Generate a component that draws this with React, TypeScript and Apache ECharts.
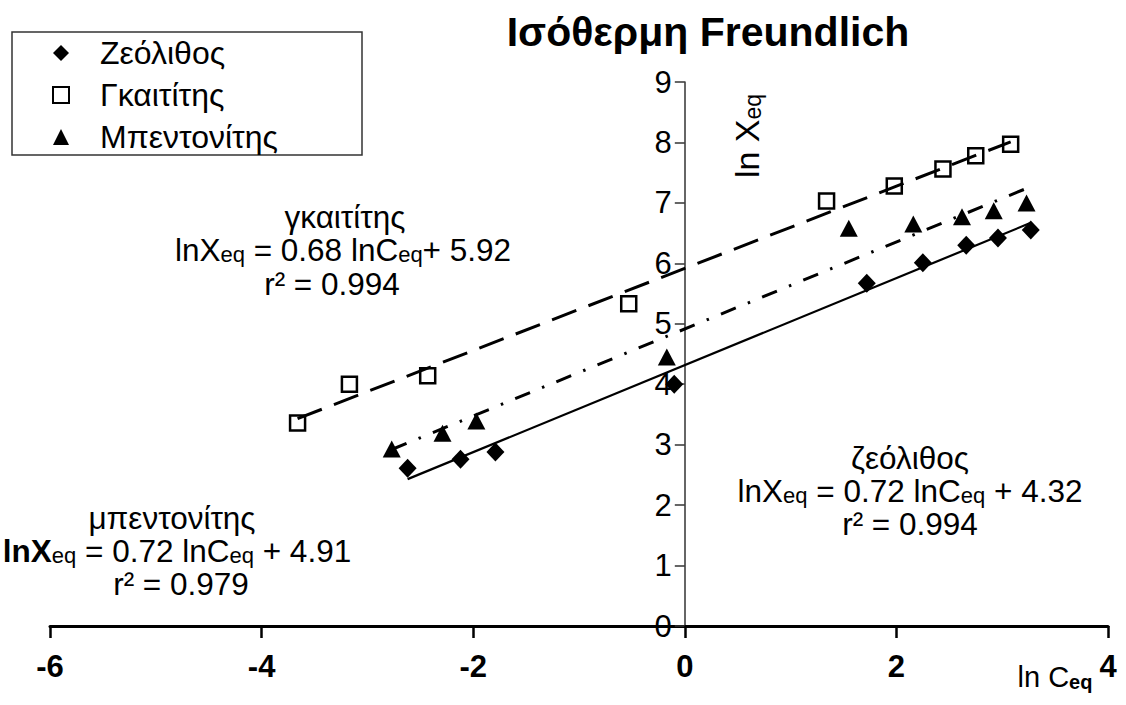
import React, { useEffect, useRef } from "react";
import * as echarts from "echarts";

const FONT = '"Liberation Sans", Arial, Helvetica, sans-serif';

// Measured points (ln Ceq, ln Xeq)
const zeoliteX = [-2.62, -2.12, -1.79, -0.1, 1.72, 2.25, 2.66, 2.96, 3.27];
const zeoliteY = [2.61, 2.76, 2.88, 4.0, 5.67, 6.01, 6.3, 6.42, 6.55];
const gaititeX = [-3.66, -3.17, -2.43, -0.53, 1.34, 1.98, 2.44, 2.75, 3.08];
const gaititeY = [3.36, 4.0, 4.14, 5.33, 7.03, 7.28, 7.56, 7.78, 7.97];
const bentoniteX = [-2.77, -2.29, -1.97, -0.17, 1.55, 2.16, 2.62, 2.92, 3.23];
const bentoniteY = [2.93, 3.19, 3.39, 4.45, 6.58, 6.65, 6.77, 6.87, 7.0];

// Trend line end points
const zeoliteTrend = [[-2.62, 2.43], [3.27, 6.67]];
const gaititeTrend = [[-3.66, 3.43], [3.08, 8.01]];
const bentoniteTrend = [[-2.77, 2.92], [3.23, 7.24]];

const seriesNames = ["Ζεόλιθος", "Γκαιτίτης", "Μπεντονίτης"];
const xTicks = { min: -6, max: 4, interval: 2 };
const yTicks = { min: 0, max: 9, interval: 1 };

const GRID = { left: 50, right: 18, top: 82, bottom: 79 };
const W = 1126;

const zip = (xs: number[], ys: number[]) => xs.map((x, i) => [x, ys[i]]);

const rich = {
  n: { fontSize: 31.5, fontFamily: FONT, lineHeight: 30, color: "#000" },
  b: { fontSize: 31.5, fontFamily: FONT, fontWeight: "bold", lineHeight: 30, color: "#000" },
  s: { fontSize: 22, fontFamily: FONT, verticalAlign: "bottom", color: "#000" },
  n2: { fontSize: 29, fontFamily: FONT, lineHeight: 30, color: "#000" },
  s2: { fontSize: 20, fontFamily: FONT, fontWeight: "bold", verticalAlign: "bottom", color: "#000" },
  n3: { fontSize: 34, fontFamily: FONT, lineHeight: 34, color: "#000" },
  s3: { fontSize: 23, fontFamily: FONT, verticalAlign: "bottom", color: "#000" },
};

const txt = (x: number, y: number, text: string, extra: any = {}) => ({
  type: "text",
  x,
  y,
  silent: true,
  ...extra,
  style: {
    text,
    rich,
    fontSize: 31.5,
    fontFamily: FONT,
    fill: "#000",
    textAlign: "center",
    textVerticalAlign: "middle",
    align: "center",
    verticalAlign: "middle",
  },
});

export default function App() {
  const ref = useRef<HTMLDivElement>(null);
  useEffect(() => {
    if (!ref.current) return;
    const chart = echarts.init(ref.current, undefined, { renderer: "svg" });
    const plotW = W - GRID.left - GRID.right;
    const zeroX = GRID.left + ((0 - xTicks.min) / (xTicks.max - xTicks.min)) * plotW;
    const option: any = {
      animation: false,
      backgroundColor: "#fff",
      title: {
        text: "Ισόθερμη Freundlich",
        left: 703,
        top: 6,
        textAlign: "center",
        textStyle: { fontSize: 41, fontWeight: "bold", fontFamily: FONT, color: "#000" },
      },
      legend: {
        data: seriesNames,
        orient: "vertical",
        left: 52,
        top: 37,
        padding: 0,
        itemWidth: 16,
        itemHeight: 16,
        itemGap: 10,
        selectedMode: false,
        textStyle: { fontSize: 32, fontFamily: FONT, color: "#000", lineHeight: 32, padding: [0, 0, 0, 26] },
      },
      grid: { ...GRID, containLabel: false },
      xAxis: {
        type: "value",
        min: xTicks.min,
        max: xTicks.max,
        interval: xTicks.interval,
        splitLine: { show: false },
        axisLine: { show: true, onZero: false, lineStyle: { color: "#000", width: 3 } },
        axisTick: { show: true, length: 12, lineStyle: { color: "#000", width: 2.5 } },
        axisLabel: { fontSize: 31, fontWeight: "bold", fontFamily: FONT, color: "#000", margin: 25, showMaxLabel: true, showMinLabel: true },
      },
      yAxis: {
        type: "value",
        min: yTicks.min,
        max: yTicks.max,
        interval: yTicks.interval,
        offset: -(zeroX - GRID.left),
        splitLine: { show: false },
        axisLine: { show: true, onZero: false, lineStyle: { color: "#333", width: 1.5 } },
        axisTick: { show: true, length: 10, lineStyle: { color: "#333", width: 1.5 } },
        axisLabel: { fontSize: 31, fontFamily: FONT, color: "#000", margin: 13, showMaxLabel: true, showMinLabel: true },
      },
      series: [
        {
          name: seriesNames[0],
          type: "scatter",
          symbol: "diamond",
          symbolSize: [18, 19],
          itemStyle: { color: "#000", opacity: 1 },
          data: zip(zeoliteX, zeoliteY),
          z: 3,
        },
        {
          name: seriesNames[1],
          type: "scatter",
          symbol: "rect",
          symbolSize: 15,
          itemStyle: { color: "#fff", borderColor: "#000", borderWidth: 2.5, opacity: 1 },
          data: zip(gaititeX, gaititeY),
          z: 3,
        },
        {
          name: seriesNames[2],
          type: "scatter",
          symbol: "triangle",
          symbolSize: [18, 17],
          itemStyle: { color: "#000", opacity: 1 },
          data: zip(bentoniteX, bentoniteY),
          z: 3,
        },
        {
          name: "trend-zeolite",
          type: "line",
          symbol: "none",
          silent: true,
          lineStyle: { color: "#000", width: 2.2, type: "solid" },
          data: zeoliteTrend,
          z: 4,
        },
        {
          name: "trend-gaitite",
          type: "line",
          symbol: "none",
          silent: true,
          lineStyle: { color: "#000", width: 3, type: [26, 13] },
          data: gaititeTrend,
          z: 4,
        },
        {
          name: "trend-bentonite",
          type: "line",
          symbol: "none",
          silent: true,
          lineStyle: { color: "#000", width: 3, type: [16, 13, 2.5, 13] },
          data: bentoniteTrend,
          z: 4,
        },
      ],
      graphic: [
        {
          type: "rect",
          silent: true,
          shape: { x: 12, y: 32, width: 350, height: 123 },
          style: { fill: "none", stroke: "#333", lineWidth: 1.5 },
        },
        txt(345, 217, "{n|γκαιτίτης}"),
        txt(343, 250, "{n|lnX}{s|eq}{n| = 0.68 lnC}{s|eq}{n|+ 5.92}"),
        txt(332, 284, "{n|r² = 0.994}"),
        txt(910, 458, "{n|ζεόλιθος}"),
        txt(910, 491, "{n|lnX}{s|eq}{n| = 0.72 lnC}{s|eq}{n| + 4.32}"),
        txt(910, 524, "{n|r² = 0.994}"),
        txt(172, 518, "{n|μπεντονίτης}"),
        txt(177, 551, "{b|lnX}{s|eq}{n| = 0.72 lnC}{s|eq}{n| + 4.91}"),
        txt(181, 584, "{n|r² = 0.979}"),
        txt(1055, 677, "{n2|ln C}{s2|eq}"),
        txt(747, 136, "{n3|ln X}{s3|eq}", { rotation: Math.PI / 2 }),
      ],
    };
    chart.setOption(option);
    return () => chart.dispose();
  }, []);
  return (
    <div
      ref={ref}
      style={{ position: "fixed", left: 0, top: 0, width: 1126, height: 705, background: "#fff" }}
    />
  );
}
